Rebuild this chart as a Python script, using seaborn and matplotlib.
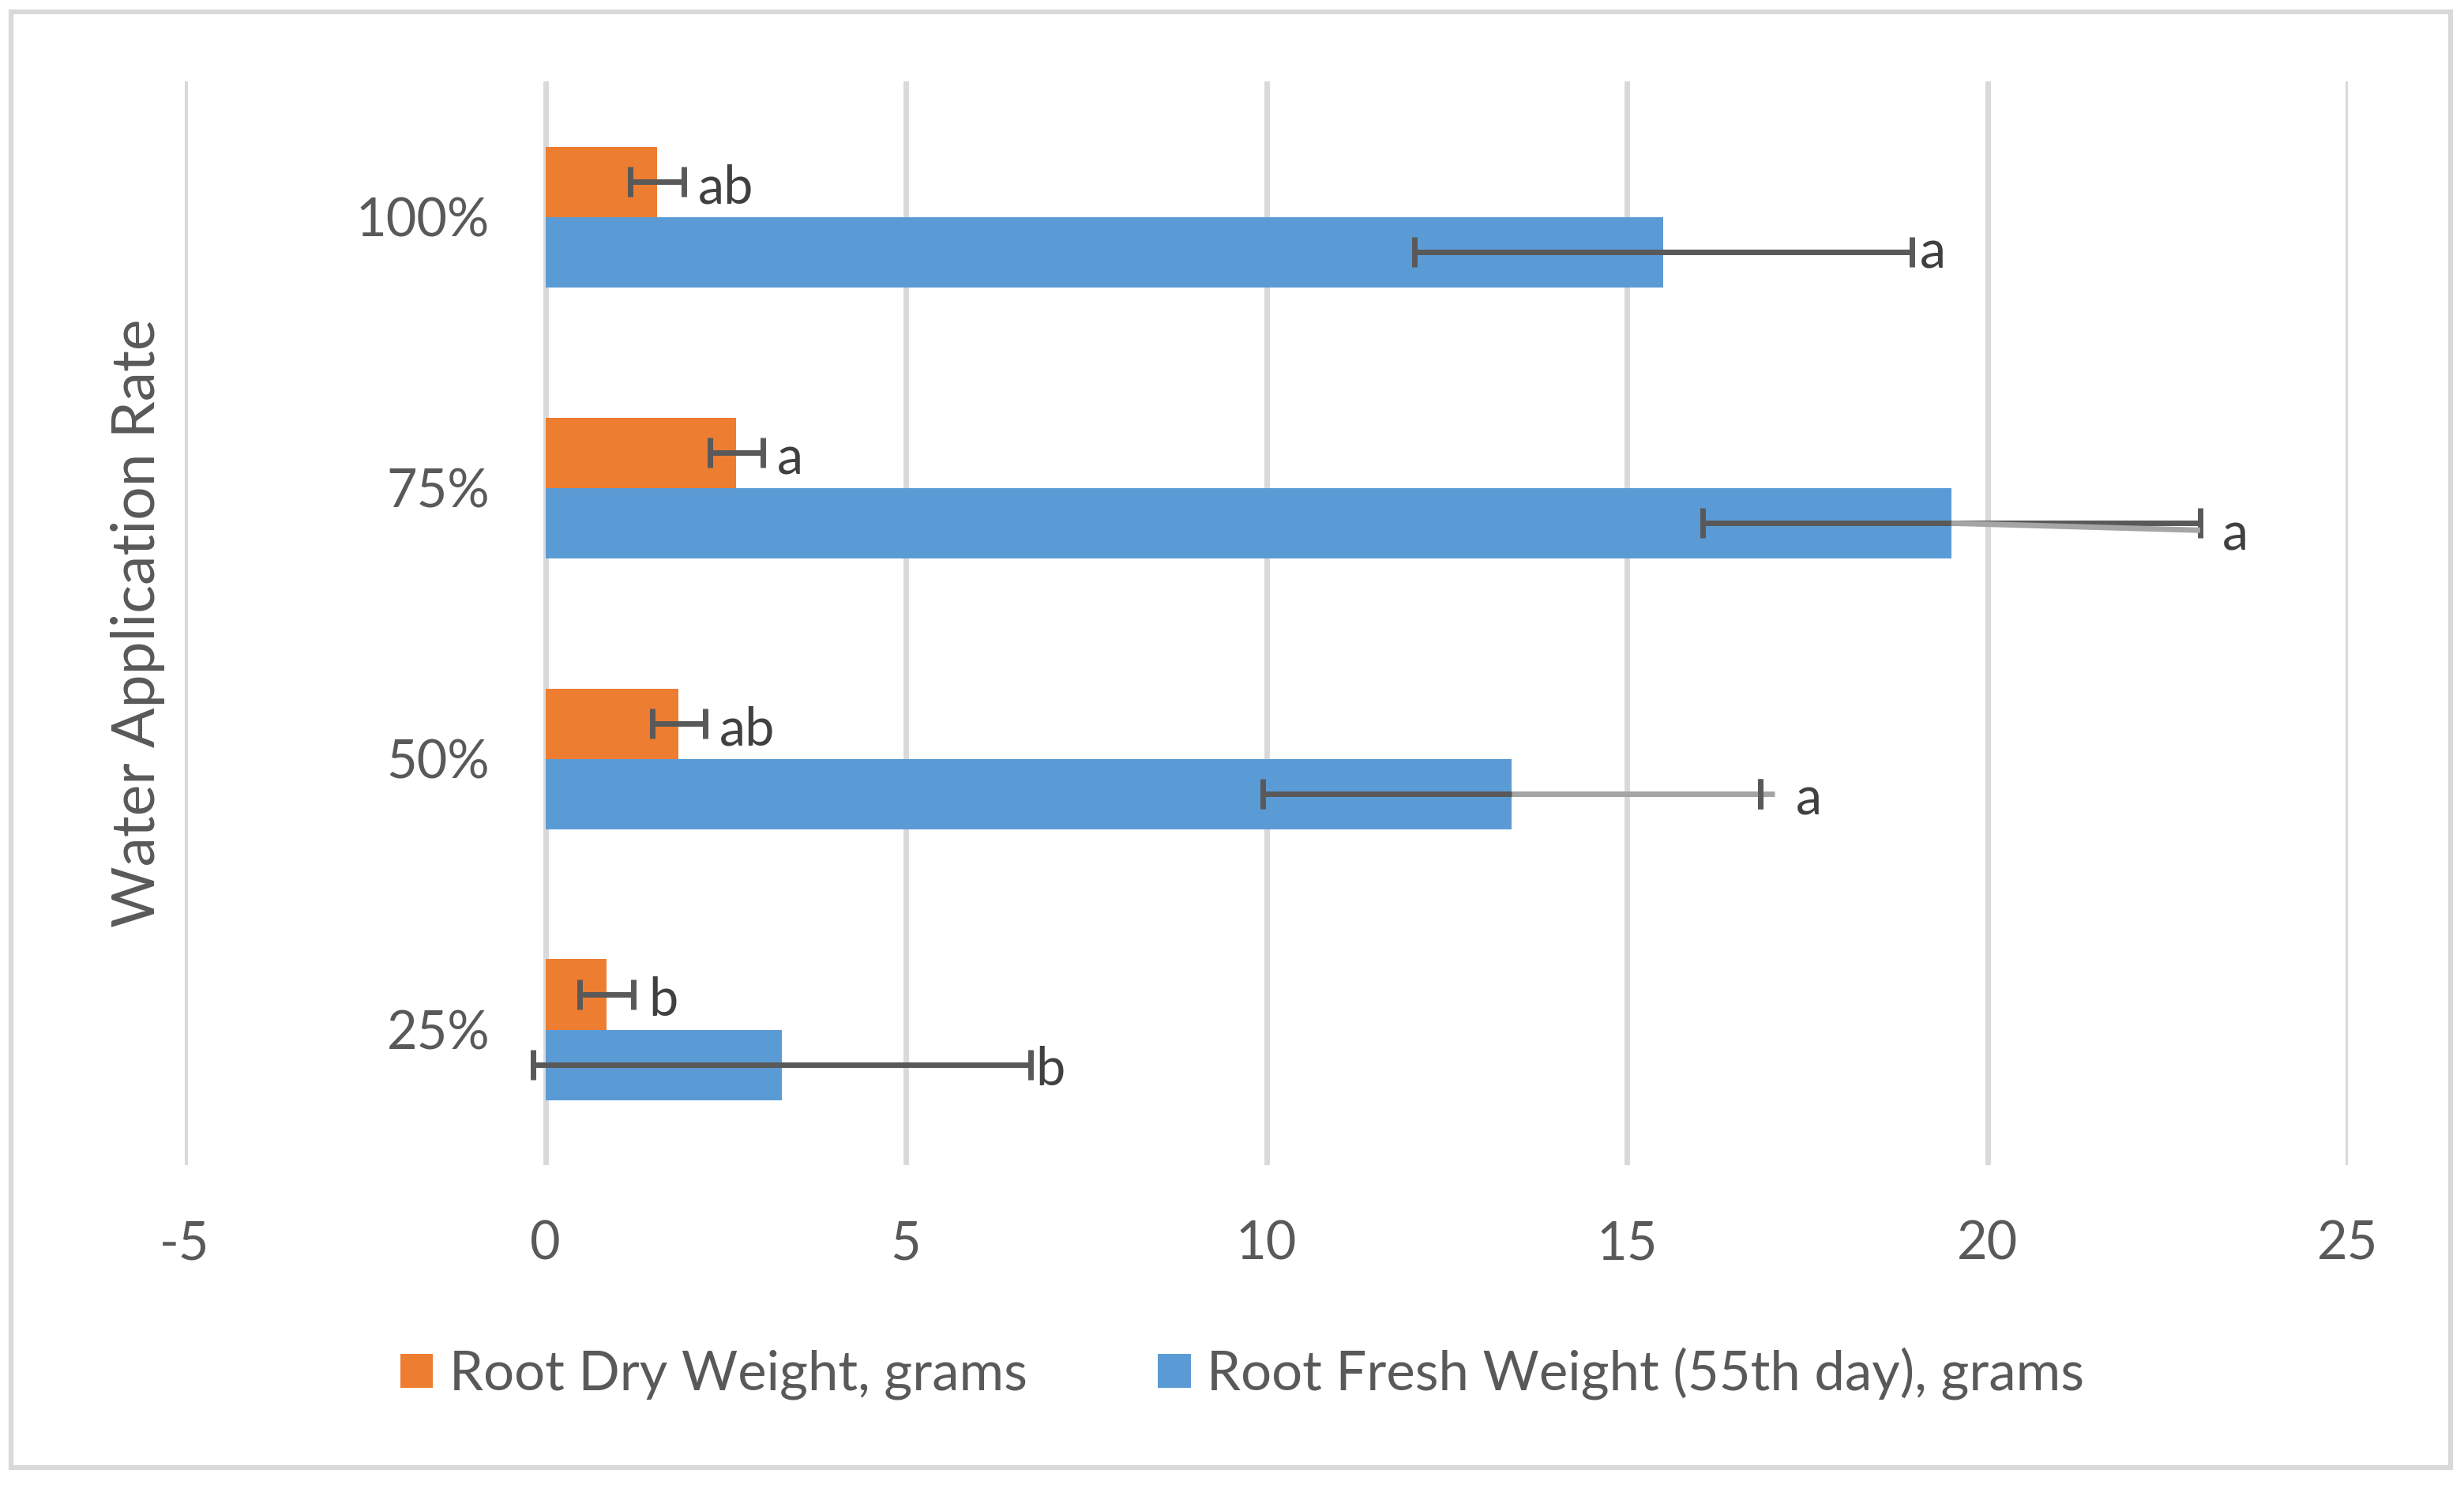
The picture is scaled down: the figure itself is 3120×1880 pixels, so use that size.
import pandas as pd
import seaborn as sns
import matplotlib.pyplot as plt
from matplotlib.patches import Rectangle

# data
rates = ['100%', '75%', '50%', '25%']
dry_weight = [1.55, 2.65, 1.85, 0.85]
fresh_weight = [15.50, 19.50, 13.40, 3.28]
dry_err = [0.37, 0.37, 0.37, 0.37]
fresh_err = [3.45, 3.45, 3.45, 3.45]
dry_letters = ['ab', 'a', 'ab', 'b']
fresh_letters = ['a', 'a', 'a', 'b']
series = ['Root Dry Weight, grams', 'Root Fresh Weight (55th day), grams']

df = pd.DataFrame({
    'Rate': rates * 2,
    'Weight': dry_weight + fresh_weight,
    'Series': [series[0]] * len(rates) + [series[1]] * len(rates),
})

sns.set_style('white')
plt.rcParams['font.family'] = ['Lato', 'DejaVu Sans']
plt.rcParams['axes.unicode_minus'] = False

grid_col = '#D9D9D9'
text_col = '#595959'
err_col = '#595959'

fig = plt.figure(figsize=(15.6, 9.4), dpi=200)
ax = fig.add_axes([0.075, 0.2154, 0.8779, 0.7296])

sns.barplot(data=df, y='Rate', x='Weight', hue='Series', order=rates,
            hue_order=series, palette=['#ED7D31', '#5B9BD5'], orient='h',
            width=0.52, saturation=1, errorbar=None, linewidth=0, ax=ax)

ax.set_xlim(-5, 25)
ax.set_ylim(3.5, -0.5)
ax.set_xticks(range(-5, 30, 5))
ax.xaxis.grid(True, color=grid_col, lw=2.5)
ax.yaxis.grid(False)
ax.set_axisbelow(True)
for s in ax.spines.values():
    s.set_visible(False)
ax.tick_params(axis='x', length=0, pad=25, labelsize=24, labelcolor=text_col)
ax.tick_params(axis='y', length=0, pad=-139, labelsize=24, labelcolor=text_col)
ax.set_xlabel('')
ax.set_ylabel('Water Application Rate', fontsize=27, color=text_col)
ax.yaxis.set_label_coords(-0.009, 0.5)

# error bars and significance letters
dx_pts = [[6.5, 6.5, 6.5, 7.0], [3.5, 10.0, 16.0, 2.2]]
dy_pts = [[9.7, 9.7, 9.7, 9.7], [7.2, 12.2, 9.4, 9.4]]
for k, (cont, vals, errs, letters) in enumerate(zip(
        ax.containers, [dry_weight, fresh_weight], [dry_err, fresh_err],
        [dry_letters, fresh_letters])):
    for i, (bar, v, e, lab) in enumerate(zip(cont, vals, errs, letters)):
        yc = bar.get_y() + bar.get_height() / 2
        ax.errorbar(v, yc, xerr=e, fmt='none', ecolor=err_col, elinewidth=2.5,
                    capsize=7, capthick=2.5, zorder=4)
        ax.annotate(lab, xy=(v + e, yc), xytext=(dx_pts[k][i], -dy_pts[k][i]),
                    textcoords='offset points', ha='left', va='baseline',
                    fontsize=24, color='#404040')
        # stray grey segments seen in the original
        if k == 1 and i == 1:
            ax.plot([v, v + e], [yc, yc + 0.026], color='#A5A5A5', lw=2.5,
                    zorder=5, solid_capstyle='butt')
        if k == 1 and i == 2:
            ax.plot([v, v + e + 0.2], [yc, yc], color='#A5A5A5', lw=2.5,
                    zorder=5, solid_capstyle='butt')
            ax.plot([v + e], [yc], marker='|', ms=14, mew=2.5, color=err_col,
                    zorder=6)

leg = ax.get_legend()
handles = leg.legend_handles
labels = [t.get_text() for t in leg.get_texts()]
leg.remove()
fig.legend(handles, labels, loc='center', bbox_to_anchor=(0.5042, 0.075),
           ncol=2, frameon=False, fontsize=24.8, handlelength=0.6,
           handleheight=0.6, handletextpad=0.3, columnspacing=2.4,
           labelcolor=text_col)

fig.patches.append(Rectangle((14 / 3120, 1 - 1858 / 1880), 3089 / 3120,
                             1843 / 1880, transform=fig.transFigure,
                             fill=False, ec=grid_col, lw=2.2))

fig.savefig('out.png', dpi=200, facecolor='white')
